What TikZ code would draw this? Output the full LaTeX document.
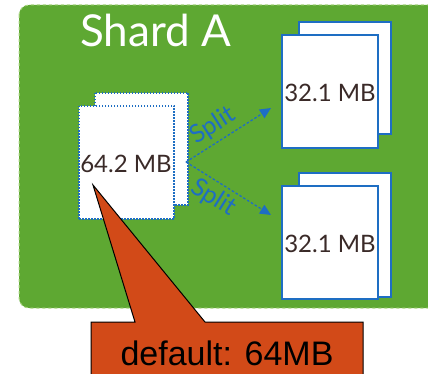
\documentclass[tikz,border=0pt]{standalone}
\usepackage{fontspec}
\setmainfont{Lato}
\newfontfamily\arialfont{Liberation Sans}
\usetikzlibrary{arrows.meta}
\definecolor{shardgreen}{RGB}{94,168,50}
\definecolor{shardedge}{RGB}{170,215,130}
\definecolor{docblue}{RGB}{30,110,195}
\definecolor{calloutorange}{RGB}{210,74,24}
\definecolor{mbtext}{RGB}{58,42,40}
\begin{document}
\begin{tikzpicture}[x=1pt,y=-1pt,
  page/.style={draw=docblue,fill=white,line width=1.6pt},
  dpage/.style={draw=docblue,fill=white,line width=1.2pt,dash pattern=on 1.5pt off 1.5pt},
  mblabel/.style={text=mbtext,font=\fontsize{24}{28}\selectfont,inner sep=0pt},
  splitarrow/.style={draw=docblue,line width=1.3pt,dash pattern=on 2.5pt off 2pt,-{Triangle[length=11pt,width=10pt]}},
  splitlabel/.style={text=docblue,font=\fontsize{25}{28}\selectfont,inner sep=0pt}]
\useasboundingbox (0,0) rectangle (428,374);
% shard container
\draw[fill=shardgreen,draw=shardedge,line width=1pt,dashed,rounded corners=10pt] (19,5) rectangle (440,308);
\node[anchor=base west,text=white,inner sep=0pt,font=\fontsize{44}{48}\selectfont] (title) at (80,47) {Shard A};
% left chunk 64.2 MB
\draw[dpage] (95,93) rectangle (188,205);
\node[dpage,minimum width=95pt,minimum height=113pt,inner sep=0pt] (big) at (126.5,162.5) {};
\node[mblabel] (bigl) at (126,164) {64.2 MB};
% top right chunk
\draw[page] (299,22) rectangle (391,134);
\node[page,minimum width=96pt,minimum height=113pt,inner sep=0pt] (top) at (330,91.5) {};
\node[mblabel] (topl) at (330,93) {32.1 MB};
% bottom right chunk
\draw[page] (299,173) rectangle (391,297);
\node[page,minimum width=96pt,minimum height=113pt,inner sep=0pt] (bot) at (330,242.5) {};
\node[mblabel] (botl) at (330,244) {32.1 MB};
% arrows
\coordinate (s) at (186,162);
\coordinate (t1) at (271,108);
\coordinate (t2) at (271,215);
\draw[splitarrow] (s) -- (t1) node[splitlabel,pos=0.42,sloped,above=4pt] (sp1) {Split};
\draw[splitarrow] (s) -- (t2) node[splitlabel,pos=0.42,sloped,below=4pt] (sp2) {Split};
% callout
\draw[fill=calloutorange,draw=black,line width=1pt,line join=miter]
  (91,380) -- (91,322) -- (135,322) -- (93,185) -- (205,322) -- (363,322) -- (363,380);
\node[anchor=base,inner sep=0pt,font=\arialfont\fontsize{34}{38}\selectfont] (callout) at (227,365) {default: 64MB};
\end{tikzpicture}
\end{document}
